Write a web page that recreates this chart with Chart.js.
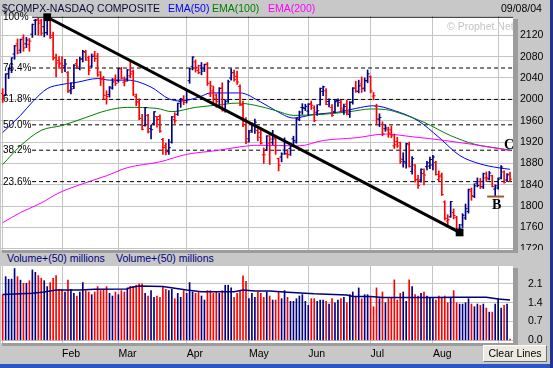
<!DOCTYPE html>
<html>
<head>
<meta charset="utf-8">
<script src="https://cdn.jsdelivr.net/npm/chart.js@4.4.1/dist/chart.umd.min.js"></script>
<style>
body { margin:0; width:553px; height:368px; overflow:hidden; position:relative; background:#c8c8c8;
       font-family:"Liberation Sans", Arial, sans-serif; font-size:10.5px; }
.t { position:absolute; white-space:nowrap; line-height:14px; }
.strip { position:absolute; }
canvas { position:absolute; left:0; }
.fib { position:absolute; left:3px; line-height:12px; font-size:10px; color:#000; white-space:nowrap; }
.mark { position:absolute; font-family:"Liberation Serif", "DejaVu Serif", serif; font-weight:bold; font-size:14px; line-height:14px; color:#000; }
#clear { position:absolute; left:483px; top:345px; width:62px; height:15px; background:#ece9e0;
         border-top:1px solid #fff; border-left:1px solid #fff; border-right:1px solid #707070; border-bottom:1px solid #707070;
         font-size:10.5px; line-height:15px; text-align:center; color:#000; }
</style>
</head>
<body>
<!-- panel shadows -->
<div class="strip" style="left:513px;top:19px;width:5px;height:234px;background:#9c9c9c"></div>
<div class="strip" style="left:2px;top:250px;width:516px;height:3px;background:#9c9c9c"></div>
<div class="strip" style="left:513px;top:268px;width:5px;height:78px;background:#9c9c9c"></div>
<div class="strip" style="left:2px;top:343px;width:516px;height:3px;background:#9c9c9c"></div>

<canvas id="price" width="553" height="250" style="top:0"></canvas>
<canvas id="volume" width="553" height="96" style="top:266px"></canvas>

<div class="t" style="left:2px;top:1px;color:#0a0a3a">$COMPX-NASDAQ COMPOSITE</div>
<div class="t" style="left:168px;top:1px;color:#0000ff">EMA(50)</div>
<div class="t" style="left:212px;top:1px;color:#008000">EMA(100)</div>
<div class="t" style="left:268px;top:1px;color:#ff00ff">EMA(200)</div>
<div class="t" style="left:501px;top:1px;color:#000">09/08/04</div>
<div class="t" style="left:447px;top:19px;color:#c4c4c4">© Prophet.Net</div>

<div class="t" style="left:7px;top:251px;color:#000080">Volume+(50) millions</div>
<div class="t" style="left:116px;top:251px;color:#000080">Volume+(50) millions</div>

<div class="mark" style="left:504px;top:138px">C</div>
<div class="mark" style="left:492px;top:198px">B</div>

<div id="clear">Clear Lines</div>
<div class="strip" style="left:0;top:364px;width:553px;height:4px;background:#2c56c4"></div>
<div class="strip" style="left:550px;top:0;width:3px;height:368px;background:#22348a"></div>

<script>
// trading days Jan 2 .. Sep 8 2004, index 0..171
const monthStart = [0, 20, 39, 62, 83, 103, 124, 145, 167];
const monthLabels = ['', 'Feb', 'Mar', 'Apr', 'May', 'Jun', 'Jul', 'Aug', ''];
const priceTicks = [1720, 1760, 1800, 1840, 1880, 1920, 1960, 2000, 2040, 2080, 2120];
const volTicks = [0, 0.7, 1.4, 2.1];

const opens = [
  2011,2008,2048,2058,2085,2104,2092,2115,2104,2103,
  2122,2148,2150,2147,2136,2125,2153,2120,2078,2073,
  2068,2060,2050,2017,2024,2067,2058,2076,2088,2078,
  2062,2083,2081,2051,2040,2000,2009,2021,2038,2035,
  2057,2032,2038,2044,2052,2005,1995,1952,1951,1970,
  1945,1955,1968,1968,1925,1913,1903,1920,1962,1972,
  1996,1998,1998,2035,2061,2070,2054,2063,2057,2066,
  2010,2016,2008,1988,2021,1983,1999,2040,2050,2043,
  2024,1990,1960,1926,1942,1951,1942,1929,1896,1905,
  1918,1919,1929,1889,1892,1905,1898,1908,1926,1920,
  1962,1985,1983,1978,1992,1984,1976,1990,2015,2016,
  1996,1985,1977,1998,1994,1980,1991,1972,1995,2021,
  2015,2029,2021,2035,2043,2006,1987,1963,1953,1945,
  1943,1943,1913,1921,1919,1888,1881,1915,1865,1877,
  1850,1849,1861,1874,1875,1877,1882,1850,1858,1808,
  1772,1780,1788,1779,1755,1765,1778,1790,1828,1818,
  1843,1846,1836,1853,1851,1857,1832,1834,1853,1864,
  1849,1860];
const highs = [
  2020,2048,2059,2078,2101,2113,2113,2121,2116,2114,
  2141,2150,2152,2150,2146,2153.8,2153,2126,2085,2080,
  2080,2075,2052,2031,2065,2075,2079,2092,2092,2081,
  2085,2090,2086,2052,2043,2016,2024,2039,2046,2058,
  2060,2042,2056,2071,2055,2010,2001,1972,1985,1972,
  1952,1977,1968,1971,1927,1918,1925,1968,1975,1993,
  2002,2007,2017,2058,2080,2074,2064,2069,2066,2069,
  2034,2025,2010,2022,2031,1999,2036,2057,2055,2053,
  2027,1997,1966,1942,1956,1963,1945,1946,1909,1932,
  1934,1942,1932,1890,1900,1928,1906,1915,1931,1965,
  1978,1992,1991,1992,1997,1988,1990,2021,2025,2020,
  2001,1990,1998,2001,1998,1991,1998,1996,2022,2034,
  2036,2042,2040,2055,2044,2013,1991,1973,1958,1952,
  1948,1950,1935,1929,1920,1900,1918,1920,1893,1878,
  1858,1870,1870,1884,1892,1895,1884,1866,1862,1810,
  1784,1809,1795,1781,1766,1786,1804,1832,1834,1842,
  1853,1852,1862,1864,1865,1858,1840,1853,1876,1866,
  1861,1864];
const lows = [
  1994,2007,2039,2050,2075,2085,2087,2090,2097,2090,
  2116,2121,2120,2120,2117,2121,2114,2074,2042,2058,
  2050,2052,2013,2010,2020,2058,2055,2070,2073,2046,
  2060,2071,2043,2026,2000,1991,2004,2019,2026,2032,
  2038,2025,2034,2040,2007,1988,1962,1943,1950,1937,
  1926,1952,1948,1938,1897,1896,1897,1918,1955,1970,
  1985,1990,1993,2030,2055,2051,2048,2046,2052,2026,
  2005,1990,1985,1985,1978,1976,1994,2036,2034,2028,
  1988,1949,1917,1920,1938,1936,1922,1916,1880,1904,
  1878,1915,1897,1866,1883,1897,1890,1895,1915,1918,
  1960,1972,1979,1970,1981,1958,1970,1989,2007,1990,
  1986,1968,1975,1987,1977,1972,1971,1966,1991,2013,
  2012,2013,2015,2031,2012,1999,1952,1949,1932,1940,
  1929,1928,1908,1910,1880,1873,1871,1873,1860,1845,
  1833,1845,1840,1868,1870,1868,1858,1847,1820,1774,
  1764,1779,1776,1752,1750.8,1760,1775,1787,1811,1816,
  1836,1833,1833,1846,1849,1836,1819,1832,1851,1843,
  1846,1846];
const closes = [
  2006.7,2047.4,2057.4,2077.7,2100.3,2086.9,2111.8,2096.4,2111.1,2109.1,
  2140.5,2148.0,2142.5,2123.9,2124.8,2153.8,2116.0,2077.4,2068.2,2066.2,
  2063.2,2066.2,2014.1,2019.6,2064.0,2060.6,2075.3,2089.7,2073.6,2053.6,
  2080.4,2076.5,2046.0,2037.9,2007.5,2005.4,2023.0,2032.6,2029.8,2057.8,
  2039.7,2033.4,2055.1,2047.6,2008.8,1995.2,1964.2,1943.9,1984.7,1939.2,
  1943.1,1976.8,1962.4,1940.5,1909.9,1901.8,1909.5,1967.2,1960.0,1992.6,
  2000.6,1994.2,2015.0,2057.2,2079.1,2059.9,2050.2,2052.9,2065.5,2030.1,
  2024.9,2002.2,1995.7,2020.4,1978.6,1995.6,2032.9,2049.8,2036.8,2032.5,
  1989.5,1958.8,1920.2,1938.7,1950.5,1957.3,1937.7,1918.0,1896.1,1931.4,
  1925.6,1926.0,1904.3,1876.6,1897.8,1898.2,1896.6,1912.1,1923.0,1964.7,
  1976.2,1984.5,1986.7,1990.8,1989.0,1960.3,1978.6,2020.6,2023.5,1990.6,
  1999.9,1970.0,1995.6,1998.2,1983.7,1986.7,1974.4,1994.2,2021.0,2015.6,
  2025.5,2019.8,2034.9,2047.8,2015.6,2006.7,1963.4,1966.1,1935.3,1946.3,
  1936.9,1931.7,1914.9,1912.7,1883.2,1883.8,1917.1,1874.4,1889.1,1849.1,
  1839.0,1869.1,1858.3,1881.1,1887.4,1892.1,1859.4,1855.1,1821.6,1776.9,
  1774.6,1808.7,1782.4,1752.5,1757.2,1782.8,1795.3,1831.4,1819.9,1838.0,
  1838.7,1836.9,1860.7,1852.9,1862.1,1836.5,1838.1,1850.4,1873.4,1844.5,
  1858.6,1850.6];
const volumes = [
  1.70,2.37,2.27,2.28,2.67,2.37,2.24,2.12,2.12,2.22,
  2.62,2.53,2.41,2.31,2.22,2.00,2.15,2.31,2.41,1.90,
  1.90,1.80,2.24,1.90,1.75,1.65,1.80,2.15,1.85,1.80,
  1.70,1.80,2.00,1.85,1.90,2.00,1.75,1.65,1.80,1.70,
  1.85,1.80,1.95,2.00,2.00,2.05,2.10,2.10,1.75,1.65,
  1.85,1.60,1.65,1.60,2.00,1.90,1.85,1.90,1.55,1.75,
  1.60,1.85,1.75,2.15,1.80,1.75,1.80,1.65,1.50,1.85,
  1.85,1.75,1.80,1.75,1.85,2.05,2.05,1.95,1.60,1.75,
  1.85,2.40,2.20,1.55,1.75,1.60,1.80,1.75,1.60,1.80,
  1.65,1.50,1.50,1.80,1.55,1.85,1.60,1.45,1.45,1.55,
  1.65,1.70,1.45,1.30,1.55,1.55,1.45,1.50,1.50,1.45,
  1.35,1.55,1.40,1.50,1.55,1.60,1.40,1.70,1.80,1.60,
  1.95,1.55,1.70,1.70,1.60,1.25,1.95,1.55,1.80,1.40,
  1.55,1.60,2.25,1.50,1.75,1.80,1.45,2.25,2.00,1.70,
  1.65,1.75,1.80,1.65,1.60,1.55,1.50,1.65,1.60,1.65,
  1.40,1.60,1.85,1.40,1.35,1.35,1.40,1.55,1.35,1.25,
  1.35,1.30,1.35,1.20,1.05,1.05,1.35,1.55,1.20,1.30,
  1.35,0.05];

// moving averages
const ema50Days = [0,6,10,15,20,25,32,36,42,50,56,60,62,67,70,80,87,92,98,105,113,119,125,132,140,147,154,161,167,171];
const ema50 = [1938,1970,1995,2020,2028,2032,2039,2036,2036,2023,2001,1997,1998,2006,2012,2012,1995,1979,1965,1972,1976,1983,1988,1979,1960,1929,1895,1879,1872,1869];
const ema100Days = [0,6,13,20,28,35,42,52,57,65,72,79,85,92,98,108,117,124,129,135,142,151,159,165,171];
const ema100 = [1878,1913,1942,1951,1966,1979,1985,1983,1977,1985,1989,1993,1989,1979,1970,1972,1977,1982,1981,1972,1957,1932,1916,1910,1905];
const ema200Days = [0,6,13,19,27,35,42,53,62,72,80,86,100,108,119,129,138,149,158,167,171];
const ema200 = [1769,1788,1806,1825,1842,1857,1872,1883,1897,1904,1911,1914,1913,1923,1928,1935,1930,1923,1916,1908,1904];
const volAvgDays = [0,10,14,18,26,31,42,43,46,54,58,62,67,78,81,85,90,96,105,116,118,124,128,146,153,163,167,171];
const volAvg = [1.71,1.75,1.80,1.87,1.87,1.90,1.91,1.97,2.02,2.00,1.94,1.87,1.81,1.81,1.87,1.84,1.84,1.79,1.73,1.69,1.63,1.63,1.59,1.59,1.60,1.60,1.54,1.50];

// drawn annotations
const trendDays = [15, 154];
const trendPrices = [2153.83, 1750.82];
const fibPcts = [100, 76.4, 61.8, 50, 38.2, 23.6];
const fibStartDay = 9.9;
const supportDays = [163.3, 169];
const supportPrice = 1818;

Chart.defaults.font.family = '"Liberation Sans", Arial, sans-serif';
Chart.defaults.font.size = 10.5;
Chart.defaults.color = '#000';

const RED = '#ff0000', NAVY = '#000080', GRID = '#c4c4c4';
const barColors = closes.map((c, i) => c < (i ? closes[i - 1] : opens[0]) ? RED : NAVY);
const pts = (xs, ys) => xs.map((x, i) => ({x: x, y: ys[i]}));

const plotBg = {
  id: 'plotBg',
  beforeDraw(chart) {
    const a = chart.chartArea, ctx = chart.ctx;
    ctx.save();
    ctx.fillStyle = '#fff';
    ctx.fillRect(a.left, a.top, a.right - a.left, a.bottom - a.top);
    ctx.restore();
  }
};

// keep the scales from reserving room for half a tick label
function noPad(s) {
  s.paddingTop = 0; s.paddingBottom = 0; s.paddingLeft = 0; s.paddingRight = 0;
}

function xScale(showLabels) {
  return {
    type: 'linear', min: -0.57, max: 172, offset: false,
    grid: {color: GRID, drawTicks: false, offset: false},
    border: {display: false},
    ticks: showLabels
      ? {align: 'start', padding: 5, maxRotation: 0, autoSkip: false, callback: (v, i) => monthLabels[i]}
      : {display: false},
    afterBuildTicks: s => { s.ticks = monthStart.map(v => ({value: v})); },
    afterFit: s => { s.height = showLabels ? 19 : 0; noPad(s); }
  };
}

const lo = trendPrices[1], hi = trendPrices[0];
const fibLevels = fibPcts.map(p => lo + (hi - lo) * p / 100);

const fibSets = fibLevels.map((lv, k) => ({
  type: 'line', data: [{x: fibStartDay, y: lv}, {x: 172, y: lv}],
  borderColor: '#000', borderWidth: 1, borderDash: k === 0 ? [] : [4, 3],
  pointRadius: 0, order: 10
}));

const priceChart = new Chart(document.getElementById('price'), {
  type: 'bar',
  data: {
    datasets: [
      ...fibSets,
      {type: 'line', data: pts(ema200Days, ema200), borderColor: '#ff00ff', borderWidth: 1, pointRadius: 0, cubicInterpolationMode: 'monotone', order: 8},
      {type: 'line', data: pts(ema100Days, ema100), borderColor: '#008000', borderWidth: 1, pointRadius: 0, cubicInterpolationMode: 'monotone', order: 8},
      {type: 'line', data: pts(ema50Days, ema50), borderColor: '#0000ff', borderWidth: 1, pointRadius: 0, cubicInterpolationMode: 'monotone', order: 8},
      {type: 'bar', data: closes.map((c, i) => ({x: i, y: [lows[i], highs[i]]})),
       backgroundColor: barColors, barThickness: 1, borderWidth: 0, order: 6},
      {type: 'line', showLine: false, data: opens.map((o, i) => ({x: i - 0.34, y: o})),
       pointStyle: 'line', pointRadius: 1, pointHoverRadius: 1, pointBorderWidth: 1, pointBorderColor: barColors, order: 5},
      {type: 'line', showLine: false, data: closes.map((c, i) => ({x: i + 0.34, y: c})),
       pointStyle: 'line', pointRadius: 1, pointHoverRadius: 1, pointBorderWidth: 1, pointBorderColor: barColors, order: 5},
      {type: 'line', data: [{x: supportDays[0], y: supportPrice}, {x: supportDays[1], y: supportPrice}],
       borderColor: '#9c5a2a', borderWidth: 2, pointRadius: 0, order: 3},
      {type: 'line', data: pts(trendDays, trendPrices), borderColor: '#000', borderWidth: 3,
       pointStyle: 'rect', pointRadius: 5.5, pointBackgroundColor: '#000', pointBorderWidth: 0,
       clip: false, order: 1}
    ]
  },
  options: {
    responsive: false, animation: false, devicePixelRatio: 1, events: [],
    layout: {autoPadding: false, padding: {left: 1, right: 0, top: 16, bottom: 0}},
    plugins: {legend: {display: false}, tooltip: {enabled: false}},
    scales: {
      x: xScale(false),
      y: {
        position: 'right', min: 1717.9, max: 2156.1,
        grid: {color: GRID, drawTicks: false}, border: {display: false},
        ticks: {padding: 7, callback: v => String(v)},
        afterBuildTicks: s => { s.ticks = priceTicks.map(v => ({value: v})); },
        afterFit: s => { s.width = 40; noPad(s); }
      }
    }
  },
  plugins: [plotBg]
});

new Chart(document.getElementById('volume'), {
  type: 'bar',
  data: {
    datasets: [
      {type: 'line', data: pts(volAvgDays, volAvg), borderColor: NAVY, borderWidth: 1.5, pointRadius: 0, order: 1},
      {type: 'bar', data: volumes.map((v, i) => ({x: i, y: v})), backgroundColor: barColors,
       barThickness: 1, borderWidth: 0, order: 2}
    ]
  },
  options: {
    responsive: false, animation: false, devicePixelRatio: 1, events: [],
    layout: {autoPadding: false, padding: {left: 1, right: 0, top: 0, bottom: 0}},
    plugins: {legend: {display: false}, tooltip: {enabled: false}},
    scales: {
      x: xScale(true),
      y: {
        position: 'right', min: -0.099, max: 2.766,
        grid: {color: GRID, drawTicks: false}, border: {display: false},
        ticks: {padding: 15, callback: v => v.toFixed(1)},
        afterBuildTicks: s => { s.ticks = volTicks.map(v => ({value: v})); },
        afterFit: s => { s.width = 40; noPad(s); }
      }
    }
  },
  plugins: [plotBg]
});

// Fibonacci labels placed on the chart's own price scale
const yScale = priceChart.scales.y;
fibLevels.forEach((lv, k) => {
  const d = document.createElement('div');
  d.className = 'fib';
  d.textContent = (k === 0 ? '100' : fibPcts[k].toFixed(1)) + '%';
  d.style.top = (yScale.getPixelForValue(lv) - 6) + 'px';
  document.body.appendChild(d);
});
</script>
</body>
</html>
